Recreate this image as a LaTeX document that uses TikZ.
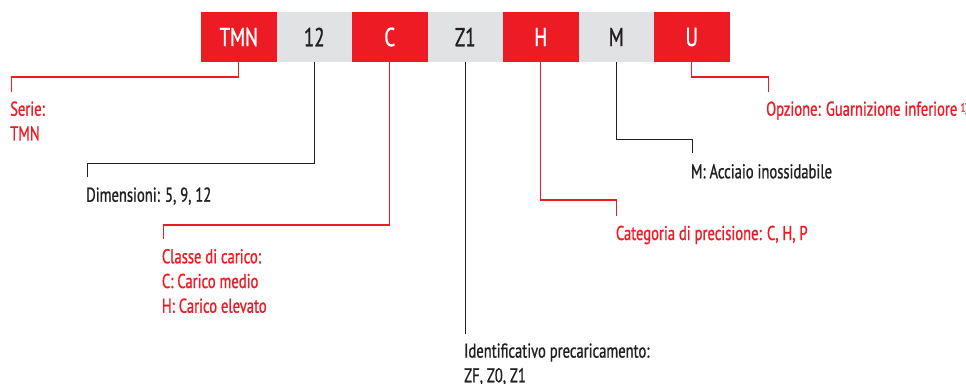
\documentclass[tikz,border=0pt]{standalone}
\usepackage{fontspec}
\setmainfont[FakeStretch=0.73,FakeBold=1]{PT Sans}
\definecolor{rd}{HTML}{ED1C24}
\definecolor{gr}{HTML}{E1E2E4}
\definecolor{dk}{HTML}{231F20}
\begin{document}
\begin{tikzpicture}[x=1pt,y=-1pt,
  cell/.style={minimum width=75.5pt,minimum height=50pt,inner sep=0pt,outer sep=0pt,
    font=\fontsize{26}{26}\selectfont,anchor=north west},
  redcell/.style={cell,fill=rd,text=white},
  graycell/.style={cell,fill=gr,text=dk},
  lab/.style={anchor=base west,inner sep=0pt,align=left,font=\fontsize{20}{24.7}\selectfont},
  redlab/.style={lab,text=rd},
  darklab/.style={lab,text=dk},
  redln/.style={draw=rd,line width=1.3pt},
  darkln/.style={draw=dk,line width=1.3pt}]
\useasboundingbox (0,0) rectangle (966,383);
% code boxes
\node[redcell]  (tmn) at (201,12)    {TMN};
\node[graycell] (dim) at (276.5,12)  {12};
\node[redcell]  (cls) at (352,12)    {C};
\node[graycell] (zid) at (427.5,12)  {Z1};
\node[redcell]  (prc) at (503,12)    {H};
\node[graycell] (mat) at (578.5,12)  {M};
\node[redcell]  (opt) at (654,12)    {U};
% labels (anchor = baseline of last line)
\node[redlab]  (tSerie) at (10,140.4)   {Serie:\\TMN};
\node[darklab] (tDim)   at (86,201.7)   {Dimensioni: 5, 9, 12};
\node[redlab]  (tCls)   at (161.7,312.7){Classe di carico:\\C: Carico medio\\H: Carico elevato};
\node[darklab] (tId)    at (464,382.3)  {Identificativo precaricamento:\\ZF, Z0, Z1};
\node[redlab]  (tPrc)   at (615.7,240)  {Categoria di precisione: C, H, P};
\node[darklab] (tMat)   at (690.7,178.3){M: Acciaio inossidabile};
\node[redlab]  (tOpt)   at (766,115.7)  {Opzione: Guarnizione inferiore\,\raisebox{4pt}{\fontsize{12}{12}\selectfont 1)}};
% connector ends
\coordinate (kSerie) at (11.7,91.7);
\coordinate (kDim)   at (87.3,177.3);
\coordinate (kCls)   at (163.3,239.3);
\coordinate (kId)    at (465.25,334.3);
\coordinate (kPrc)   at (616.3,215.7);
\coordinate (kMat)   at (692.3,153.3);
\coordinate (kOpt)   at (768.3,91.7);
% connectors
\draw[redln]  (tmn.south) -- ++(0,15)    -| (kSerie);
\draw[darkln] (dim.south) -- ++(0,101.3) -| (kDim);
\draw[redln]  (cls.south) -- ++(0,163)   -| (kCls);
\draw[darkln] (zid.south) -- (kId);
\draw[redln]  (prc.south) -- ++(0,138)   -| (kPrc);
\draw[darkln] (mat.south) -- ++(0,77.3)  -| (kMat);
\draw[redln]  (opt.south) -- ++(0,15)    -| (kOpt);
\end{tikzpicture}
\end{document}
